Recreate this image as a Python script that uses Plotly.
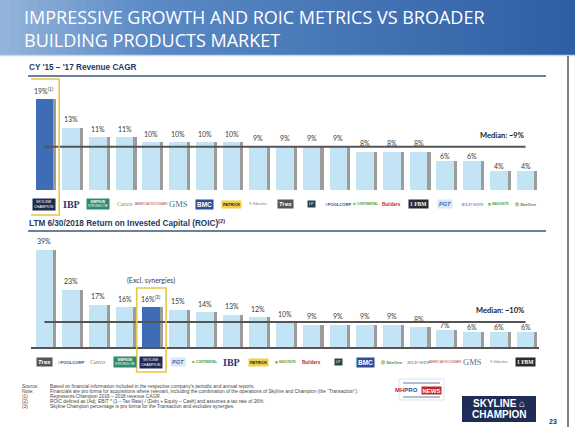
import plotly.graph_objects as go

# ---------------- data ----------------
CAGR_COMPANIES = ["Skyline Champion", "IBP", "Simpson", "Cavco", "American Woodmark", "GMS", "BMC",
                  "Patrick", "Gibraltar", "Trex", "LP", "PoolCorp", "Continental", "Builders FirstSource",
                  "FBM", "PGT", "JELD-WEN", "Masonite", "SiteOne"]
CAGR_VALUES = [19, 13, 11, 11, 10, 10, 10, 10, 9, 9, 9, 9, 8, 8, 8, 6, 6, 4, 4]
CAGR_MEDIAN = 9

ROIC_COMPANIES = ["Trex", "PoolCorp", "Cavco", "Simpson", "Skyline Champion", "PGT", "Continental",
                  "IBP", "Patrick", "Masonite", "Builders FirstSource", "LP", "BMC", "SiteOne",
                  "JELD-WEN", "American Woodmark", "GMS", "Gibraltar", "FBM"]
ROIC_VALUES = [39, 23, 17, 16, 16, 15, 14, 13, 12, 10, 9, 9, 9, 9, 8, 7, 6, 6, 6]
ROIC_MEDIAN = 10

FOCUS = "Skyline Champion"
CAGR_NOTE = "(1)"
ROIC_NOTE = "(3)"

TITLE = "IMPRESSIVE GROWTH AND ROIC METRICS VS BROADER<br>BUILDING PRODUCTS MARKET"
CAGR_TITLE = "CY '15 – '17 Revenue CAGR"
ROIC_TITLE = "LTM 6/30/2018 Return on Invested Capital (ROIC)<sup>(2)</sup>"
FOOTNOTES = [
    ("Source:", "Based on financial information included in the respective company's periodic and annual reports."),
    ("Note:", "Financials are pro forma for acquisitions where relevant, including the combination of the operations of Skyline and Champion (the \u201cTransaction\u201d)."),
    ("(1)", "Represents Champion 2016 – 2018 revenue CAGR."),
    ("(2)", "ROIC defined as (Adj. EBIT * (1 – Tax Rate) / (Debt + Equity – Cash) and assumes a tax rate of 26%."),
    ("(3)", "Skyline Champion percentage is pro forma for the Transaction and excludes synergies."),
]

# ---------------- styling ----------------
W, H = 575, 427
LIGHT = "#C3E4F5"
DARK = "#3E6DB5"
SHADOW = "#9C9C9C"
GOLD = "#E9C548"
LABEL_FONT = dict(family="Lato, Open Sans, sans-serif", size=7, color="#3A3A3A")

LOGO_STYLE = {
    "Skyline Champion": dict(text="SKYLINE<br>CHAMPION", size=3.6, color="white", bg="#1F2A4E", family="Liberation Sans"),
    "IBP": dict(text="<b>IBP</b>", size=10, color="#1F3A78", bg=None, family="Liberation Serif"),
    "Simpson": dict(text="<b>SIMPSON</b><br>STRONG-TIE", size=3.2, color="white", bg="#2E8C6C", family="Liberation Sans"),
    "Cavco": dict(text="<i>Cavco</i>", size=6, color="#8A7A52", bg=None, family="Liberation Serif"),
    "American Woodmark": dict(text="AMERICAN WOODMARK", size=2.8, color="#B0383A", bg=None, family="Liberation Sans"),
    "GMS": dict(text="GMS", size=8.5, color="#5B6A88", bg=None, family="Liberation Serif"),
    "BMC": dict(text="<b>BMC</b>", size=6.5, color="white", bg="#2C4F9C", family="Liberation Sans"),
    "Patrick": dict(text="<b>PATRICK</b>", size=4, color="#222222", bg="#F0CF4A", family="Liberation Sans"),
    "Gibraltar": dict(text="§ Gibraltar", size=3.8, color="#6A7FA0", bg=None, family="Liberation Sans"),
    "Trex": dict(text="<b><i>Trex</i></b>", size=6, color="white", bg="#555555", family="Liberation Sans"),
    "LP": dict(text="<br><br>LP", size=3.5, color="white", bg="#27464E", family="Liberation Sans"),
    "PoolCorp": dict(text="<b>≡POOLCORP</b>", size=4.2, color="#1E4E9A", bg=None, family="Liberation Sans"),
    "Continental": dict(text="<b>✿ CONTINENTAL</b>", size=3, color="#3C9A3C", bg=None, family="Liberation Sans"),
    "Builders FirstSource": dict(text="<b>Builders</b>", size=4.6, color="#C0282D", bg=None, family="Liberation Sans"),
    "FBM": dict(text="<b>1 FBM</b>", size=5.5, color="white", bg="#2B2B2B", family="Liberation Serif"),
    "PGT": dict(text="<b><i>PGT</i></b>", size=5.5, color="#3A6AB0", bg="#DCE6F4", family="Liberation Sans"),
    "JELD-WEN": dict(text="JELD-WEN", size=4.5, color="#3B5BA0", bg=None, family="Liberation Serif"),
    "Masonite": dict(text="<b>▥ MASONITE</b>", size=3.2, color="#5CA04A", bg=None, family="Liberation Sans"),
    "SiteOne": dict(text="<b>ⓢ SiteOne</b>", size=4.2, color="#4A8A3A", bg=None, family="Liberation Sans"),
}


def px(x):
    return x / W


def py(y):
    return 1 - y / H


X_DOMAIN = [px(31.1), px(538.9)]
CAGR_PPU = 4.8   # pixels per %
ROIC_PPU = 2.5
CAGR_TOP = 20
ROIC_TOP = 42
CAGR_BASE_PX = 190
ROIC_BASE_PX = 347

fig = go.Figure()
shapes = []
annotations = []


def add_bars(companies, values, note, median, xa, ya):
    colors = [DARK if c == FOCUS else LIGHT for c in companies]
    idx = list(range(len(values)))
    fig.add_trace(go.Bar(x=idx, y=values, width=0.66, offset=-0.21, marker=dict(color=SHADOW, line_width=0),
                         hoverinfo="skip", showlegend=False, xaxis=xa, yaxis=ya))
    fig.add_trace(go.Bar(x=idx, y=values, width=0.66, offset=-0.33, marker=dict(color=colors, line_width=0),
                         hovertext=companies, showlegend=False, xaxis=xa, yaxis=ya))
    for c, i, v in zip(companies, idx, values):
        t = f"{v}%" + (f"<sup>{note}</sup>" if c == FOCUS else "")
        gap = 8.5 if v >= median - 2 else 5
        annotations.append(dict(text=t, xref=xa, yref=ya, x=i, y=v, xanchor="center", yanchor="middle",
                                yshift=gap, showarrow=False, font=LABEL_FONT))
    return idx


cagr_idx = add_bars(CAGR_COMPANIES, CAGR_VALUES, CAGR_NOTE, CAGR_MEDIAN, "x", "y")
roic_idx = add_bars(ROIC_COMPANIES, ROIC_VALUES, ROIC_NOTE, ROIC_MEDIAN, "x2", "y2")

# header gradient
N = 60
c0 = (0x93, 0xB4, 0xDA)
c1 = (0x5C, 0x8B, 0xC6)
c2 = (0x2F, 0x5E, 0xA5)
for i in range(N):
    t = i / (N - 1)
    if t < 0.25:
        u = t / 0.25
        col = tuple(int(a + (b - a) * u) for a, b in zip(c0, c1))
    else:
        u = (t - 0.25) / 0.75
        col = tuple(int(a + (b - a) * u) for a, b in zip(c1, c2))
    shapes.append(dict(type="rect", xref="paper", yref="paper", x0=i / N, x1=(i + 1) / N + 0.002,
                       y0=py(55), y1=1, fillcolor="rgb(%d,%d,%d)" % col, line_width=0, layer="below"))
shapes.append(dict(type="line", xref="paper", yref="paper", x0=0, x1=1, y0=py(55.5), y1=py(55.5),
                   line=dict(color="#C9D7EA", width=1.5)))
annotations.append(dict(text=TITLE, xref="paper", yref="paper", x=px(22), y=py(28.5), xanchor="left",
                        yanchor="middle", align="left", showarrow=False,
                        font=dict(family="Open Sans, sans-serif", size=18, color="white")))

# right border
shapes.append(dict(type="line", xref="paper", yref="paper", x0=px(568), x1=px(568), y0=0, y1=py(56),
                   line=dict(color="#555555", width=1.5)))

# section titles and rules
for txt, ty, ly in [(CAGR_TITLE, 68, 76), (ROIC_TITLE, 223, 231)]:
    annotations.append(dict(text=f"<b>{txt}</b>", xref="paper", yref="paper", x=px(27), y=py(ty),
                            xanchor="left", yanchor="middle", showarrow=False,
                            font=dict(family="Liberation Sans, Arial", size=8.2, color="#1F3864")))
    shapes.append(dict(type="line", xref="paper", yref="paper", x0=px(28), x1=px(546), y0=py(ly), y1=py(ly),
                       line=dict(color="#3B5675", width=1.3)))

# median lines and labels
for xr, yr, med, label in [("x", "y", CAGR_MEDIAN, f"Median: ~{CAGR_MEDIAN}%"),
                           ("x2", "y2", ROIC_MEDIAN, f"Median: ~{ROIC_MEDIAN}%")]:
    shapes.append(dict(type="line", xref=xr, yref=yr, x0=0, x1=len(CAGR_VALUES) - 1, y0=med, y1=med,
                       line=dict(color="#555555", width=2)))
    annotations.append(dict(text=f"<b>{label}</b>", xref=xr, yref=yr, x=len(CAGR_VALUES) - 1, y=med,
                            xanchor="right", yanchor="bottom", yshift=5, showarrow=False,
                            font=dict(family="Lato, Open Sans, sans-serif", size=7.5, color="#1A1A1A")))

# focus boxes
fc = CAGR_COMPANIES.index(FOCUS)
fr = ROIC_COMPANIES.index(FOCUS)
shapes.append(dict(type="rect", xref="x", yref="paper", x0=fc - 0.57, x1=fc + 0.55, y0=py(215), y1=py(79),
                   line=dict(color=GOLD, width=1.6), fillcolor="rgba(0,0,0,0)"))
shapes.append(dict(type="rect", xref="x2", yref="paper", x0=fr - 0.55, x1=fr + 0.55, y0=py(372), y1=py(288),
                   line=dict(color=GOLD, width=1.6), fillcolor="rgba(0,0,0,0)"))
annotations.append(dict(text="(Excl. synergies)", xref="x2", yref="paper", x=fr, y=py(280), showarrow=False,
                        xanchor="center", yanchor="middle", font=LABEL_FONT))

# logos as styled text
for comps, idx, xr, ly in [(CAGR_COMPANIES, cagr_idx, "x", 204), (ROIC_COMPANIES, roic_idx, "x2", 362)]:
    for c, i in zip(comps, idx):
        s = LOGO_STYLE[c]
        a = dict(text=s["text"], xref=xr, yref="paper", x=i, y=py(ly), showarrow=False, xanchor="center",
                 yanchor="middle", font=dict(family=s["family"], size=s["size"], color=s["color"]), borderpad=1)
        if s["bg"]:
            a["bgcolor"] = s["bg"]
        annotations.append(a)

# footnotes
for k, (lab, txt) in enumerate(FOOTNOTES):
    y = py(386 + k * 5)
    annotations.append(dict(text=lab, xref="paper", yref="paper", x=px(20), y=y, xanchor="left", yanchor="middle",
                            showarrow=False, font=dict(family="Liberation Sans", size=4.8, color="#444444")))
    annotations.append(dict(text=txt, xref="paper", yref="paper", x=px(48), y=y, xanchor="left", yanchor="middle",
                            showarrow=False, font=dict(family="Liberation Sans", size=4.8, color="#444444")))

# MHProNews logo
shapes.append(dict(type="rect", xref="paper", yref="paper", x0=px(399), x1=px(444), y0=py(400), y1=py(379),
                   line=dict(color="#D8DCE6", width=0.8), fillcolor="white"))
shapes.append(dict(type="line", xref="paper", yref="paper", x0=px(403), x1=px(440), y0=py(383), y1=py(383),
                   line=dict(color="#3A5A9A", width=0.8)))
shapes.append(dict(type="line", xref="paper", yref="paper", x0=px(403), x1=px(440), y0=py(397), y1=py(397),
                   line=dict(color="#3A5A9A", width=0.8)))
annotations.append(dict(text="<b><span style='color:#C0282D'>MH</span>PRO</b>",
                        xref="paper", yref="paper", x=px(420), y=py(390), xanchor="right", yanchor="middle",
                        showarrow=False, font=dict(family="Liberation Sans", size=6, color="#1E4E9A")))
annotations.append(dict(text="<b>NEWS</b>", xref="paper", yref="paper", x=px(420.5), y=py(390), xanchor="left",
                        yanchor="middle", showarrow=False, bgcolor="#C0282D", borderpad=0.5,
                        font=dict(family="Liberation Sans", size=6, color="white")))

# Skyline Champion logo
shapes.append(dict(type="rect", xref="paper", yref="paper", x0=px(462), x1=px(536), y0=py(422), y1=py(396),
                   line_width=0, fillcolor="#1F2C55"))
annotations.append(dict(text="<b>SKYLINE ⌂</b>", xref="paper", yref="paper", x=px(499), y=py(403.5),
                        xanchor="center", yanchor="middle", showarrow=False,
                        font=dict(family="Liberation Sans, Arial", size=10, color="white")))
annotations.append(dict(text="<b>CHAMPION</b>", xref="paper", yref="paper", x=px(499), y=py(414.5),
                        xanchor="center", yanchor="middle", showarrow=False,
                        font=dict(family="Liberation Sans, Arial", size=10, color="white")))
annotations.append(dict(text="<b>23</b>", xref="paper", yref="paper", x=px(553), y=py(421), xanchor="center",
                        yanchor="middle", showarrow=False,
                        font=dict(family="Liberation Sans", size=7, color="#333333")))

axis_common = dict(showgrid=False, zeroline=False, showticklabels=False, ticks="", range=[-0.5, 18.5],
                   domain=X_DOMAIN, fixedrange=True)
fig.update_layout(
    width=W, height=H, margin=dict(l=0, r=0, t=0, b=0), paper_bgcolor="white", plot_bgcolor="rgba(0,0,0,0)",
    barmode="overlay", bargap=0, showlegend=False,
    xaxis=dict(**axis_common, anchor="y"),
    yaxis=dict(range=[0, CAGR_TOP], domain=[py(CAGR_BASE_PX), py(CAGR_BASE_PX - CAGR_TOP * CAGR_PPU)],
               showgrid=False, zeroline=False, showticklabels=False, anchor="x", fixedrange=True),
    xaxis2=dict(**axis_common, anchor="y2", showline=True, linecolor="#555555", linewidth=2),
    yaxis2=dict(range=[0, ROIC_TOP], domain=[py(ROIC_BASE_PX), py(ROIC_BASE_PX - ROIC_TOP * ROIC_PPU)],
                showgrid=False, zeroline=False, showticklabels=False, anchor="x2", fixedrange=True),
    shapes=shapes, annotations=annotations,
)

fig.write_html("out.html", config={"displayModeBar": False},
               post_script="document.body.style.margin='0px';document.body.style.overflow='hidden';")
